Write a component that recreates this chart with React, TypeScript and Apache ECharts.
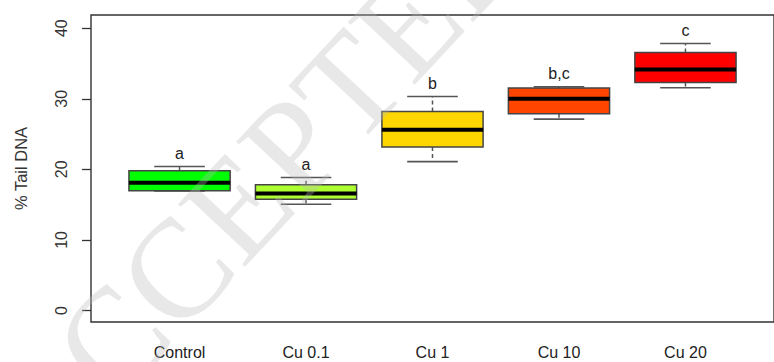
import React, { useEffect, useRef } from "react";
import * as echarts from "echarts";

const categories = ["Control", "Cu 0.1", "Cu 1", "Cu 10", "Cu 20"];
const lowerWhisker = [16.95, 15.06, 21.1, 27.12, 31.56];
const q1 = [16.95, 15.77, 23.15, 27.87, 32.3];
const median = [18.09, 16.57, 25.6, 30.0, 34.16];
const q3 = [19.79, 17.8, 28.2, 31.52, 36.57];
const upperWhisker = [20.4, 18.84, 30.33, 31.7, 37.84];
const letters = ["a", "a", "b", "b,c", "c"];
const boxColors = ["#00FF00", "#ADFF2F", "#FFD700", "#FF4500", "#FF0000"];
const yTicks = [0, 10, 20, 30, 40];
const xPositions = [1, 2, 3, 4, 5];

const FONT = '"Liberation Sans", Arial, sans-serif';

export default function App() {
  const ref = useRef<HTMLDivElement>(null);

  useEffect(() => {
    if (!ref.current) return;
    const chart = echarts.init(ref.current, undefined, { renderer: "svg" });

    const data = categories.map((_, i) => [
      xPositions[i],
      lowerWhisker[i],
      q1[i],
      median[i],
      q3[i],
      upperWhisker[i],
      i,
    ]);

    const renderItem = (params: any, api: any) => {
      const x = api.value(0);
      const idx = api.value(6);
      const pLow = api.coord([x, api.value(1)]);
      const pQ1 = api.coord([x, api.value(2)]);
      const pMed = api.coord([x, api.value(3)]);
      const pQ3 = api.coord([x, api.value(4)]);
      const pHigh = api.coord([x, api.value(5)]);
      const boxW = api.size([0.8, 0])[0];
      const half = boxW / 2;
      const capHalf = half / 2;
      const cx = pMed[0];
      const whiskerStyle = { stroke: "#555", lineWidth: 1.5, lineDash: [4, 3] };
      const capStyle = { stroke: "#555", lineWidth: 1.6 };
      return {
        type: "group",
        children: [
          { type: "line", shape: { x1: cx, y1: pQ3[1], x2: cx, y2: pHigh[1] }, style: whiskerStyle },
          { type: "line", shape: { x1: cx, y1: pQ1[1], x2: cx, y2: pLow[1] }, style: whiskerStyle },
          { type: "line", shape: { x1: cx - capHalf, y1: pHigh[1], x2: cx + capHalf, y2: pHigh[1] }, style: capStyle },
          { type: "line", shape: { x1: cx - capHalf, y1: pLow[1], x2: cx + capHalf, y2: pLow[1] }, style: capStyle },
          {
            type: "rect",
            shape: { x: cx - half, y: pQ3[1], width: boxW, height: pQ1[1] - pQ3[1] },
            style: { fill: boxColors[idx], stroke: "#444", lineWidth: 1.5 },
          },
          {
            type: "line",
            shape: { x1: cx - half, y1: pMed[1], x2: cx + half, y2: pMed[1] },
            style: { stroke: "#000", lineWidth: 4 },
          },
          {
            type: "text",
            x: cx,
            y: pHigh[1] - 13,
            style: {
              text: letters[idx],
              align: "center",
              verticalAlign: "middle",
              font: `16px ${FONT}`,
              fill: "#222",
            },
          },
        ],
      };
    };

    chart.setOption({
      animation: false,
      backgroundColor: "#fff",
      grid: {
        left: 91,
        right: -5,
        top: 15,
        bottom: 40,
        show: true,
        borderColor: "#333",
        borderWidth: 1.4,
        backgroundColor: "transparent",
      },
      xAxis: {
        type: "value",
        min: 0.3,
        max: 5.7,
        axisLine: { show: false },
        axisTick: { show: false },
        splitLine: { show: false },
        axisLabel: {
          customValues: xPositions,
          formatter: (v: number) => categories[Math.round(v) - 1] ?? "",
          margin: 22,
          fontSize: 16,
          fontFamily: FONT,
          color: "#222",
        },
      },
      yAxis: {
        type: "value",
        min: -1.63,
        max: 41.87,
        axisLine: { show: false },
        splitLine: { show: false },
        axisTick: {
          show: true,
          customValues: yTicks,
          length: 9,
          lineStyle: { color: "#333", width: 1.3 },
        },
        axisLabel: {
          customValues: yTicks,
          rotate: 90,
          margin: 22,
          fontSize: 16,
          fontFamily: FONT,
          color: "#333",
        },
        name: "% Tail DNA",
        nameLocation: "middle",
        nameRotate: 90,
        nameGap: 62,
        nameTextStyle: { fontSize: 16.5, fontFamily: FONT, color: "#333" },
      },
      series: [
        {
          type: "custom",
          renderItem,
          data,
          encode: { x: 0, y: [1, 2, 3, 4, 5] },
          clip: false,
          z: 2,
        },
      ],
      graphic: [
        {
          type: "text",
          x: -40,
          y: 400,
          rotation: 0.82,
          z: 100,
          silent: true,
          style: {
            text: "ACCEPTED",
            font: '140px "Liberation Serif", serif',
            fill: "rgba(185,185,185,0.33)",
          },
        },
      ],
    });

    return () => chart.dispose();
  }, []);

  return (
    <div
      ref={ref}
      style={{ position: "absolute", left: 0, top: 0, width: 774, height: 362 }}
    />
  );
}
